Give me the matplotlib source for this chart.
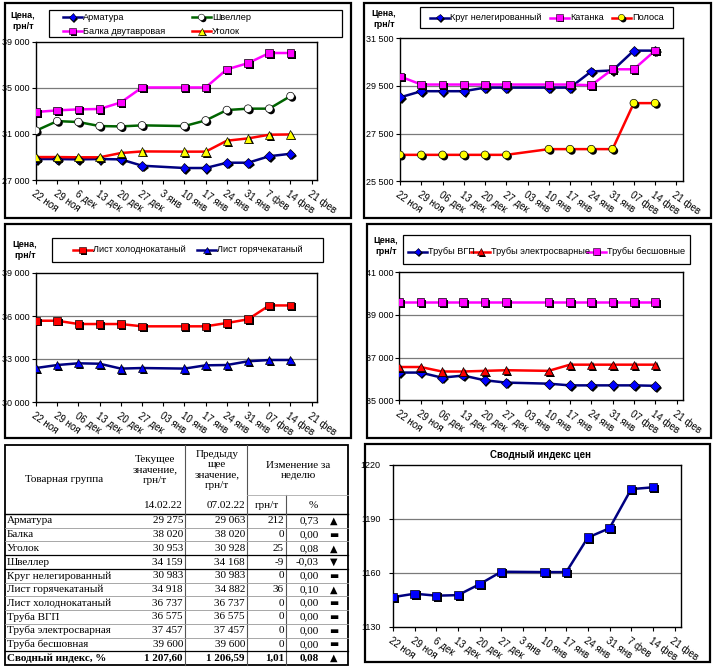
import numpy as np
import matplotlib.pyplot as plt
import matplotlib.patheffects as pe
from matplotlib.patches import Rectangle

plt.rcParams['font.family'] = ['Liberation Sans', 'DejaVu Sans']

W, H = 720, 669

# --- data ---
dates_a = ['22 ноя', '29 ноя', '6 дек', '13 дек', '20 дек', '27 дек', '3 янв',
           '10 янв', '17 янв', '24 янв', '31 янв', '7 фев', '14 фев', '21 фев']
dates_b = ['22 ноя', '29 ноя', '06 дек', '13 дек', '20 дек', '27 дек', '03 янв',
           '10 янв', '17 янв', '24 янв', '31 янв', '07 фев', '14 фев', '21 фев']
# weeks that have data (3 янв is empty)
weeks = [0, 1, 2, 3, 4, 5, 7, 8, 9, 10, 11, 12]

armatura = [28820, 28820, 28790, 28820, 28790, 28240, 28040, 28040, 28500, 28500, 29063, 29275]
shveller = [31280, 32110, 32030, 31680, 31650, 31740, 31680, 32170, 33070, 33190, 33190, 34280]
balka = [32900, 33040, 33130, 33160, 33730, 35030, 35030, 35030, 36600, 37140, 38020, 38020]
ugolok = [28990, 28990, 28970, 28970, 29340, 29480, 29460, 29460, 30410, 30610, 30928, 30953]

krug = [29020, 29280, 29280, 29280, 29430, 29430, 29430, 29430, 30110, 30150, 30983, 30983]
katanka = [29900, 29560, 29560, 29560, 29560, 29560, 29560, 29560, 29530, 30200, 30200, 30983]
polosa = [26610, 26610, 26610, 26610, 26610, 26610, 26850, 26850, 26850, 26850, 28780, 28780]

list_hol = [35670, 35670, 35440, 35440, 35440, 35280, 35280, 35280, 35510, 35770, 36737, 36737]
list_gor = [32370, 32580, 32700, 32670, 32330, 32370, 32330, 32560, 32580, 32840, 32930, 32930]

truby_vgp = [36300, 36300, 36060, 36160, 35940, 35830, 35780, 35700, 35700, 35700, 35700, 35680]
truby_el = [36560, 36560, 36350, 36350, 36380, 36410, 36380, 36670, 36670, 36670, 36670, 36670]
truby_besh = [39600, 39600, 39600, 39600, 39600, 39600, 39600, 39600, 39600, 39600, 39600, 39600]

index_vals = [1146.6, 1148.5, 1147.4, 1147.7, 1153.8, 1160.7, 1160.5, 1160.5, 1179.7, 1184.9, 1206.59, 1207.60]

names = ['Арматура', 'Балка', 'Уголок', 'Швеллер', 'Круг нелегированный',
         'Лист горячекатаный', 'Лист холоднокатаный', 'Труба ВГП',
         'Труба электросварная', 'Труба бесшовная']
cur = [29275, 38020, 30953, 34159, 30983, 34918, 36737, 36575, 37457, 39600]
prev = [29063, 38020, 30928, 34168, 30983, 34882, 36737, 36575, 37457, 39600]
idx_cur, idx_prev = 1207.60, 1206.59

NAVY = '#000080'
BLUE = '#0000FF'
MAG = '#FF00FF'
RED = '#FF0000'
YEL = '#FFFF00'
GRN = '#006400'

fig = plt.figure(figsize=(7.2, 6.69), dpi=100)
ov = fig.add_axes([0, 0, 1, 1])
ov.set_xlim(0, W)
ov.set_ylim(H, 0)
ov.axis('off')

shadow = [pe.SimplePatchShadow(offset=(1.3, -1.3), shadow_rgbFace='black', alpha=1), pe.Normal()]


def thous(v):
    return f'{v:,.0f}'.replace(',', ' ')


def chart(px, ylim, ystep, labels, series, fmt=thous, xmax=13.3, ypad=1.5):
    l, t, r, b = px
    ax = fig.add_axes([l / W, 1 - b / H, (r - l) / W, (b - t) / H])
    ax.set_xlim(0, xmax)
    ax.set_ylim(*ylim)
    yt = np.arange(ylim[0], ylim[1] + ystep / 2, ystep)
    ax.set_yticks(yt)
    ax.set_yticklabels([fmt(v) for v in yt], fontsize=6.5)
    for v in yt[1:-1]:
        ax.axhline(v, color='#7a7a7a', lw=0.9, zorder=1)
    ax.set_xticks(range(len(labels)))
    ax.set_xticklabels(labels, rotation=-35, ha='left', va='top',
                       rotation_mode='anchor', fontsize=7)
    ax.tick_params(direction='out', length=3, width=0.8, pad=ypad)
    ax.tick_params(axis='x', pad=3)
    for s in ax.spines.values():
        s.set_linewidth(1.0)
    for vals, lc, m, mfc, ms in series:
        ax.plot(weeks, vals, color=lc, lw=1.8, zorder=3)
        ax.plot(weeks, vals, ls='none', marker=m, mfc=mfc, mec='k', mew=0.5,
                ms=ms, zorder=4, path_effects=shadow)
    return ax


def legend_box(box, items):
    # box: (x0, y0, x1, y1) in pixels; items: (x_start, y, text, style)
    x0, y0, x1, y1 = box
    ov.add_patch(Rectangle((x0, y0), x1 - x0, y1 - y0, fill=False, ec='k', lw=0.9))
    for xs, y, txt, (lc, m, mfc, ms) in items:
        ov.plot([xs, xs + 19], [y, y], color=lc, lw=1.8)
        ov.plot([xs + 9.5], [y], ls='none', marker=m, mfc=mfc, mec='k', mew=0.4,
                ms=ms - 1, path_effects=shadow)
        ov.text(xs + 20, y, txt, ha='left', va='center', fontsize=6.6)


def price_label(x, y):
    ov.text(x, y, 'Цена,\nгрн/т', ha='center', va='center', fontsize=6.5,
            fontweight='bold', linespacing=1.3)


# --- panel frames ---
for (x0, y0, x1, y1) in [(5, 3, 351, 218), (364, 3, 711, 218), (5, 224, 351, 438),
                         (367, 224, 711, 438), (365, 444, 710, 662)]:
    ov.add_patch(Rectangle((x0, y0), x1 - x0, y1 - y0, fill=False, ec='k', lw=1.6))

# --- top left ---
st_arm = (NAVY, 'D', BLUE, 5)
st_shv = (GRN, 'o', 'white', 5.5)
st_bal = (MAG, 's', MAG, 5.5)
st_ugl = (RED, '^', YEL, 6)
chart((36, 41.7, 317, 180), (27000, 39000), 4000, dates_a, [
    (armatura,) + st_arm, (shveller,) + st_shv, (balka,) + st_bal, (ugolok,) + st_ugl,
], xmax=13.25)
legend_box((49, 10, 342, 37), [
    (63, 17.3, 'Арматура', st_arm), (192, 17.3, 'Швеллер', st_shv),
    (63, 31.2, 'Балка двутавровая', st_bal), (192, 31.2, 'Уголок', st_ugl),
])
price_label(23, 21)

# --- top right ---
st_krug = (NAVY, 'D', BLUE, 5)
st_kat = (MAG, 's', MAG, 5.5)
st_pol = (RED, 'o', YEL, 5.5)
chart((400, 38.3, 682.7, 181.3), (25500, 31500), 2000, dates_b, [
    (krug,) + st_krug, (katanka,) + st_kat, (polosa,) + st_pol,
])
legend_box((420, 7, 673, 28), [
    (430, 17.5, 'Круг нелегированный', st_krug), (550, 17.5, 'Катанка', st_kat),
    (612, 17.5, 'Полоса', st_pol),
])
price_label(384, 19)

# --- middle left ---
st_hol = (RED, 's', RED, 5.5)
st_gor = (NAVY, '^', BLUE, 6)
chart((36, 273, 317, 402), (30000, 39000), 3000, dates_b, [
    (list_hol,) + st_hol, (list_gor,) + st_gor,
], xmax=13.25)
legend_box((52, 238, 323, 262), [
    (73, 250, 'Лист холоднокатаный', st_hol), (197, 250, 'Лист горячекатаный', st_gor),
])
price_label(25, 250)

# --- middle right ---
st_vgp = (NAVY, 'D', BLUE, 5)
st_el = (RED, '^', RED, 6)
st_besh = (MAG, 's', MAG, 5.5)
chart((399.3, 272.3, 683, 400.3), (35000, 41000), 2000, dates_b, [
    (truby_vgp,) + st_vgp, (truby_el,) + st_el, (truby_besh,) + st_besh,
])
legend_box((403, 235, 690, 264), [
    (408, 251.5, 'Трубы ВГП', st_vgp), (471, 251.5, 'Трубы электросварные', st_el),
    (587, 251.5, 'Трубы бесшовные', st_besh),
])
price_label(386, 246)

# --- bottom right: index ---
chart((393, 465, 681, 627), (1130, 1220), 30, dates_a, [
    (index_vals, NAVY, 's', BLUE, 6),
], fmt=lambda v: f'{v:.0f}', ypad=6)
ov.text(541, 455, 'Сводный индекс цен', ha='center', va='center', fontsize=7,
        fontweight='bold')

# --- bottom left: table ---
serif = ['Liberation Serif', 'DejaVu Serif']
sym = ['DejaVu Sans']
TL, TR, TT, TB = 5, 348, 445, 665
HB = 514
rh = (TB - HB) / 11
ov.add_patch(Rectangle((TL, TT), TR - TL, TB - TT, fill=False, ec='k', lw=1.3))
ov.plot([TL, TR], [HB, HB], color='k', lw=1.0)
for xv in (185, 246.7):
    ov.plot([xv, xv], [TT, TB], color='#555555', lw=0.8)
ov.plot([286, 286], [495, TB], color='#555555', lw=0.8)
ov.plot([246.7, TR], [495, 495], color='#aaaaaa', lw=0.6)
for i in range(1, 11):
    yv = HB + rh * i
    dark = i in (3, 4, 10)
    ov.plot([TL, TR], [yv, yv], color='k' if dark else '#999999', lw=0.9 if dark else 0.6)

hf = dict(family=serif, fontsize=8, ha='center', va='center', linespacing=1.2)
ov.text(64, 479, 'Товарная группа', **hf)
ov.text(155, 470, 'Текущее\nзначение,\nгрн/т', **hf)
ov.text(216.7, 470, 'Предыду\nщее\nзначение,\nгрн/т', **hf)
ov.text(298, 470.5, 'Изменение за\nнеделю', **hf)
ov.text(183, 505, '14.02.22', family=serif, fontsize=8, ha='right', va='center')
ov.text(245, 505, '07.02.22', family=serif, fontsize=8, ha='right', va='center')
ov.text(267, 505, 'грн/т', family=serif, fontsize=8, ha='center', va='center')
ov.text(313, 505, '%', family=serif, fontsize=8, ha='center', va='center')


def pct_str(v):
    return f'{v:.2f}'.replace('.', ',')


def sign(d):
    if d > 0:
        return '▲'
    if d < 0:
        return '▼'
    return '▬'


for i, nm in enumerate(names):
    yc = HB + rh * (i + 0.5)
    d = cur[i] - prev[i]
    p = d / prev[i] * 100
    tf = dict(family=serif, fontsize=8, va='center')
    ov.text(7, yc, nm, ha='left', **tf)
    ov.text(183, yc, thous(cur[i]), ha='right', **tf)
    ov.text(245, yc, thous(prev[i]), ha='right', **tf)
    ov.text(284, yc, f'{d}', ha='right', **tf)
    ov.text(319, yc, pct_str(p), ha='right', **tf)
    ov.text(334, yc, sign(d), ha='center', va='center', family=sym, fontsize=7)

yc = HB + rh * 10.5
d = idx_cur - idx_prev
p = d / idx_prev * 100
bf = dict(family=serif, fontsize=8, va='center', fontweight='bold')
ov.text(7, yc, 'Сводный индекс, %', ha='left', **bf)
ov.text(183, yc, '1 ' + f'{idx_cur - 1000:.2f}'.replace('.', ',').zfill(6), ha='right', **bf)
ov.text(245, yc, '1 ' + f'{idx_prev - 1000:.2f}'.replace('.', ',').zfill(6), ha='right', **bf)
ov.text(284, yc, f'{d:.2f}'.replace('.', ','), ha='right', **bf)
ov.text(319, yc, pct_str(p), ha='right', **bf)
ov.text(334, yc, sign(d), ha='center', va='center', family=sym, fontsize=7)

fig.savefig('out.png', dpi=100)
